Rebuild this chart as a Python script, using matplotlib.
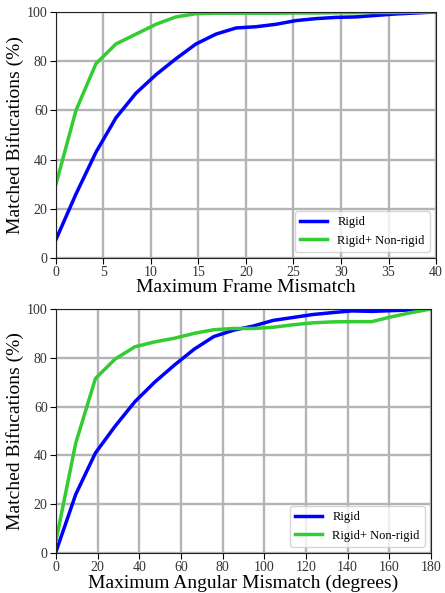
import numpy as np
import matplotlib
matplotlib.use('Agg')
import matplotlib.pyplot as plt

plt.rcParams['font.family'] = ['Liberation Serif', 'DejaVu Serif']

#frame mismatch data (20 samples over 0..40)
frame_x = np.linspace(0, 40, 20)
frame_rigid = [7.5, 26, 43, 57, 67, 74.5, 81, 87, 91, 93.5,
               94, 95, 96.5, 97.3, 97.8, 98, 98.6, 99.2, 99.6, 100]
frame_nonrigid = [30, 60, 79, 87, 91, 95, 98, 99.3, 99.5, 99.5,
                  99.5, 99.5, 99.6, 99.6, 99.7, 99.7, 99.8, 99.8, 99.9, 100]

#angular mismatch data (20 samples over 0..180)
ang_x = np.linspace(0, 180, 20)
ang_rigid = [0.5, 24, 41, 52, 62, 70, 77, 83.5, 88.7, 91.3,
             93, 95.3, 96.5, 97.7, 98.5, 99.2, 99, 99.3, 99.6, 100]
ang_nonrigid = [5, 45, 71.5, 79.5, 84.5, 86.5, 88, 90, 91.5, 92,
                92, 92.5, 93.5, 94.3, 94.7, 94.8, 94.8, 96.8, 98.5, 100]

labels = ['Rigid', 'Rigid+ Non-rigid']
colors = ['#0000ff', '#33cc33']

fig = plt.figure(figsize=(4.45, 5.93), dpi=100)
ax1 = fig.add_axes([0.1258, 0.565, 0.854, 0.4148])
ax2 = fig.add_axes([0.1258, 0.0675, 0.8427, 0.4115])

panels = [
    (ax1, frame_x, frame_rigid, frame_nonrigid, 'Maximum Frame Mismatch', np.arange(0, 41, 5)),
    (ax2, ang_x, ang_rigid, ang_nonrigid, 'Maximum Angular Mismatch (degrees)', np.arange(0, 181, 20)),
]

for ax, x, r, nr, xl, xt in panels:
    ax.plot(x, r, color=colors[0], lw=2.5, label=labels[0])
    ax.plot(x, nr, color=colors[1], lw=2.5, label=labels[1])
    ax.set_xlim(xt[0], xt[-1])
    ax.set_ylim(0, 100)
    ax.set_xticks(xt)
    ax.set_yticks(np.arange(0, 101, 20))
    ax.grid(color='#b4b4b4', lw=1.7)
    ax.set_axisbelow(True)
    ax.tick_params(direction='out', labelsize=10, length=4, pad=2, labelcolor='#333333')
    ax.set_xlabel(xl, fontsize=14, labelpad=0)
    ax.set_ylabel('Matched Bifucations (%)', fontsize=14, labelpad=2)
    ax.legend(loc='lower right', fontsize=9, handlelength=2.2)
    for s in ax.spines.values():
        s.set_color('#222222')

plt.savefig('out.png', dpi=100)
